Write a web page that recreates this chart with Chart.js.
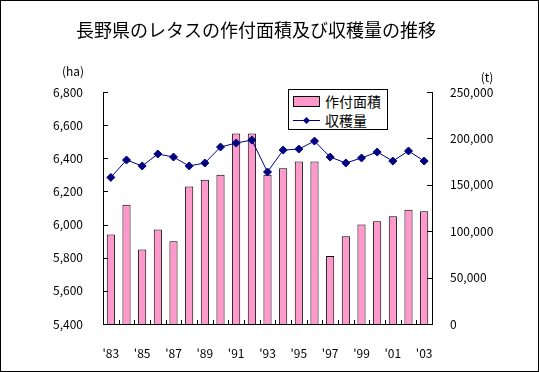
<!DOCTYPE html>
<html>
<head>
<meta charset="utf-8">
<script src="https://cdn.jsdelivr.net/npm/chart.js@4"></script>
<style>
    body { margin: 0; background: #fff; }
    #wrap { position: relative; width: 539px; height: 372px; }
    .lg { position: absolute; left: 288px; top: 89px; width: 98px; height: 39px; border: 1px solid #000; background: #fff;
          font-family: "Noto Sans CJK JP", sans-serif; font-size: 14px; }
    .lg div { position: absolute; left: 36px; line-height: 16px; }
</style>
</head>
<body>
<div id="wrap">
    <canvas id="lettuceChart" width="539" height="372"></canvas>
    <div class="lg">
        <span style="position:absolute;left:4px;top:6px;width:25px;height:9px;background:#FF99CC;border:1px solid #000;"></span>
        <div style="top:3px;">作付面積</div>
        <span style="position:absolute;left:4px;top:30px;width:27px;height:1px;background:#000080;"></span>
        <span style="position:absolute;left:15px;top:28px;width:5px;height:5px;background:#000080;transform:rotate(45deg);"></span>
        <div style="top:22px;">収穫量</div>
    </div>
</div>
<script>
const years = ["'83", "'84", "'85", "'86", "'87", "'88", "'89", "'90", "'91", "'92", "'93",
               "'94", "'95", "'96", "'97", "'98", "'99", "'00", "'01", "'02", "'03"];
// 作付面積 (ha)
const plantedArea = [5940, 6120, 5850, 5970, 5900, 6230, 6270, 6300, 6550, 6550, 6300,
                     6340, 6380, 6380, 5810, 5930, 6000, 6020, 6050, 6090, 6080];
// 収穫量 (t)
const harvest = [158000, 176700, 170300, 183200, 179900, 170300, 173500, 190700, 195000, 198200, 163800,
                 187400, 188500, 197100, 179900, 173500, 178900, 185300, 175600, 186400, 175600];

const font = '"Noto Sans CJK JP", sans-serif';

// title, units, inward ticks and outer frame
const decor = {
    id: 'decor',
    afterDraw(chart) {
        const c = chart.ctx;
        const x = chart.scales.x, y = chart.scales.y, y1 = chart.scales.y1;
        c.save();
        c.strokeStyle = '#000';
        c.lineWidth = 1;
        c.beginPath();
        y.ticks.forEach(t => {
            const py = Math.round(y.getPixelForValue(t.value)) + 0.5;
            c.moveTo(x.left, py); c.lineTo(x.left + 5, py);
        });
        y1.ticks.forEach(t => {
            const py = Math.round(y1.getPixelForValue(t.value)) + 0.5;
            c.moveTo(x.right, py); c.lineTo(x.right - 5, py);
        });
        const step = (x.right - x.left) / years.length;
        for (let i = 1; i < years.length; i++) {
            const px = Math.round(x.left + step * i) + 0.5;
            c.moveTo(px, y.bottom); c.lineTo(px, y.bottom - 4);
        }
        c.stroke();
        c.strokeRect(0.5, 0.5, chart.width - 1, chart.height - 1);

        c.fillStyle = '#000';
        c.textAlign = 'center';
        c.textBaseline = 'middle';
        c.font = '18px ' + font;
        c.fillText('長野県のレタスの作付面積及び収穫量の推移', 256, 30);
        c.font = '12px ' + font;
        c.fillText('(ha)', 73, 71);
        c.fillText('(t)', 487, 77);
        c.restore();
    }
};

const ctx = document.getElementById('lettuceChart').getContext('2d');
new Chart(ctx, {
    data: {
        labels: years,
        datasets: [
            {
                type: 'line',
                label: '収穫量',
                data: harvest,
                yAxisID: 'y1',
                borderColor: '#000080',
                backgroundColor: '#000080',
                borderWidth: 1,
                pointStyle: 'rectRot',
                pointRadius: 4,
                pointHoverRadius: 4,
                tension: 0,
                order: 0
            },
            {
                type: 'bar',
                label: '作付面積',
                data: plantedArea,
                yAxisID: 'y',
                backgroundColor: '#FF99CC',
                borderColor: '#000',
                borderWidth: 1,
                barPercentage: 0.52,
                categoryPercentage: 1,
                order: 1
            }
        ]
    },
    options: {
        responsive: false,
        animation: false,
        layout: { padding: { top: 92, left: 0, right: 0, bottom: 0 } },
        plugins: {
            legend: { display: false },
            title: { display: false },
            tooltip: { enabled: false }
        },
        scales: {
            x: {
                grid: { display: false },
                border: { display: true, color: '#000', width: 1 },
                ticks: {
                    color: '#000', font: { family: font, size: 12 },
                    autoSkip: false, maxRotation: 0, padding: 14,
                    callback: (v, i) => i % 2 === 0 ? years[i] : ''
                },
                afterFit: s => { s.height = 48; }
            },
            y: {
                position: 'left',
                min: 5400, max: 6800,
                grid: { display: false },
                border: { display: true, color: '#000', width: 1 },
                ticks: {
                    stepSize: 200, color: '#000', padding: 12,
                    font: { family: font, size: 12 },
                    callback: v => v.toLocaleString('en-US')
                },
                afterFit: s => { s.width = 103; }
            },
            y1: {
                position: 'right',
                min: 0, max: 250000,
                grid: { display: false },
                border: { display: true, color: '#000', width: 1 },
                ticks: {
                    stepSize: 50000, color: '#000', padding: 10,
                    font: { family: font, size: 12 },
                    callback: v => v.toLocaleString('en-US')
                },
                afterFit: s => { s.width = 107; }
            }
        }
    },
    plugins: [decor]
});
</script>
</body>
</html>
